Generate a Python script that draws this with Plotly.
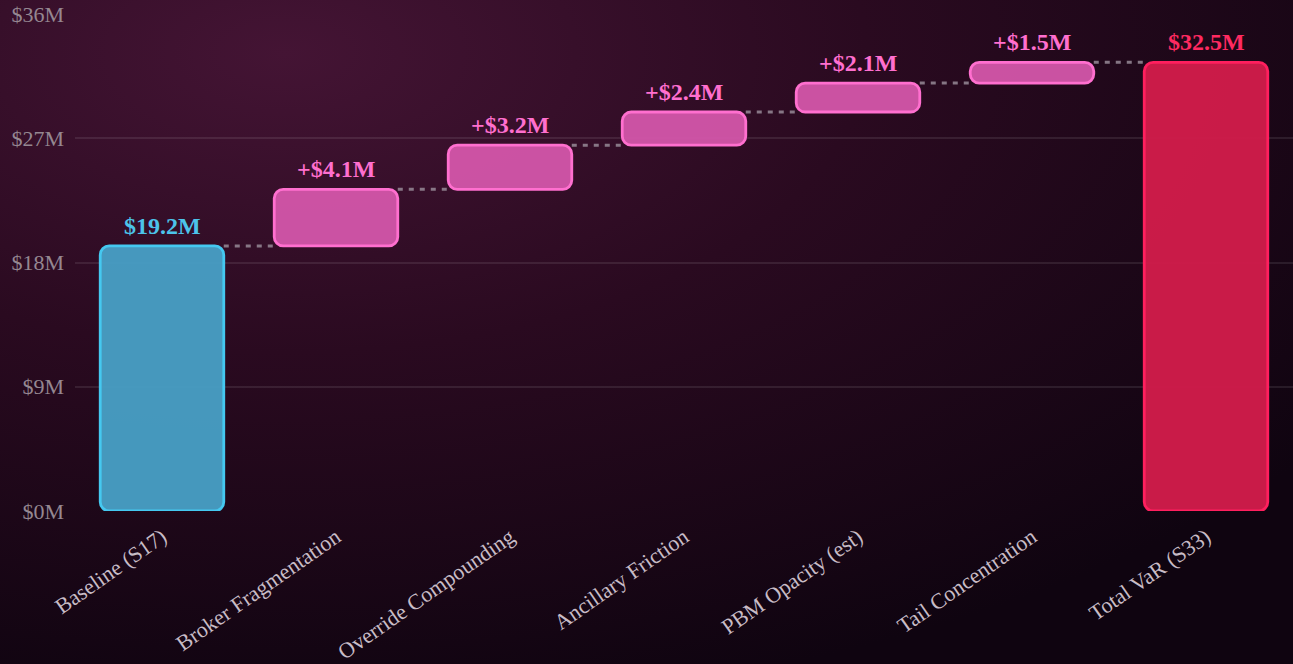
import base64
import plotly.graph_objects as go

categories = ["Baseline (S17)", "Broker Fragmentation", "Override Compounding",
              "Ancillary Friction", "PBM Opacity (est)", "Tail Concentration", "Total VaR (S33)"]
baseline = 19.2
increments = [4.1, 3.2, 2.4, 2.1, 1.5]
total = 32.5
y_ticks = [0, 9, 18, 27, 36]

# build floating bars
bases = [0]
heights = [baseline]
running = baseline
for inc in increments:
    bases.append(running)
    heights.append(inc)
    running += inc
bases.append(0)
heights.append(total)

labels = [f"${baseline}M"] + [f"+${v}M" for v in increments] + [f"${total}M"]
fills = ["rgba(72,160,198,0.95)"] + ["rgba(212,86,170,0.95)"] * len(increments) + ["rgba(208,28,74,0.97)"]
edges = ["#45c8f0"] + ["#ff6fcf"] * len(increments) + ["#ff1f5e"]
txtcol = ["#4cc3ea"] + ["#ff6fcf"] * len(increments) + ["#ff2a60"]

xs = list(range(len(categories)))
bar_w = 0.71

fig = go.Figure()

# dashed connectors
for i in range(len(categories) - 1):
    level = bases[i] + heights[i]
    fig.add_trace(go.Scatter(
        x=[xs[i] + bar_w / 2, xs[i + 1] - bar_w / 2], y=[level, level],
        mode="lines", line=dict(color="rgba(150,138,150,0.85)", width=3, dash="5px,6px"),
        hoverinfo="skip", showlegend=False))

fig.add_trace(go.Bar(
    x=xs, y=heights, base=bases, width=bar_w,
    marker=dict(color=fills, line=dict(color=edges, width=2.8), cornerradius=9),
    showlegend=False))

for x, b, h, t, c in zip(xs, bases, heights, labels, txtcol):
    fig.add_annotation(x=x, y=b + h, text=f"<b>{t}</b>", showarrow=False,
                       yanchor="bottom", yshift=5,
                       font=dict(family="Liberation Serif", size=24, color=c))

svg = """<svg xmlns='http://www.w3.org/2000/svg' width='1293' height='664'>
<defs><radialGradient id='g' cx='0.22' cy='0.08' r='1.0' gradientUnits='objectBoundingBox'>
<stop offset='0' stop-color='#441434'/>
<stop offset='0.45' stop-color='#2a0a20'/>
<stop offset='1' stop-color='#0f0410'/>
</radialGradient></defs>
<rect width='1293' height='664' fill='url(#g)'/></svg>"""
src = "data:image/svg+xml;base64," + base64.b64encode(svg.encode()).decode()

L, R, T, B = 75, 0, 14, 153
pw, ph = 1293 - L - R, 664 - T - B

fig.update_layout(
    width=1293, height=664,
    margin=dict(l=L, r=R, t=T, b=B),
    paper_bgcolor="#1a0814", plot_bgcolor="rgba(0,0,0,0)",
    bargap=0.29,
    images=[dict(source=src, xref="paper", yref="paper",
                 x=-L / pw, y=1 + T / ph, sizex=1293 / pw, sizey=664 / ph,
                 xanchor="left", yanchor="top", sizing="stretch", layer="below")],
    font=dict(family="Liberation Serif"),
)
fig.update_xaxes(
    range=[-0.5, len(categories) - 0.5], tickvals=xs, ticktext=categories,
    tickangle=-35, tickfont=dict(size=22, color="#c8bcc6"),
    showgrid=False, zeroline=False, showline=False, ticks="", ticklabelstandoff=8)
fig.update_yaxes(
    range=[0, 36], tickvals=y_ticks, ticktext=[f"${v}M" for v in y_ticks],
    tickfont=dict(size=22, color="#958791"),
    gridcolor="rgba(255,255,255,0.09)", gridwidth=2,
    zeroline=False, showline=False, ticks="", ticklabelstandoff=10)

fig.write_html("out.html", config={"displayModeBar": False},
               post_script="document.body.style.margin='0';")
